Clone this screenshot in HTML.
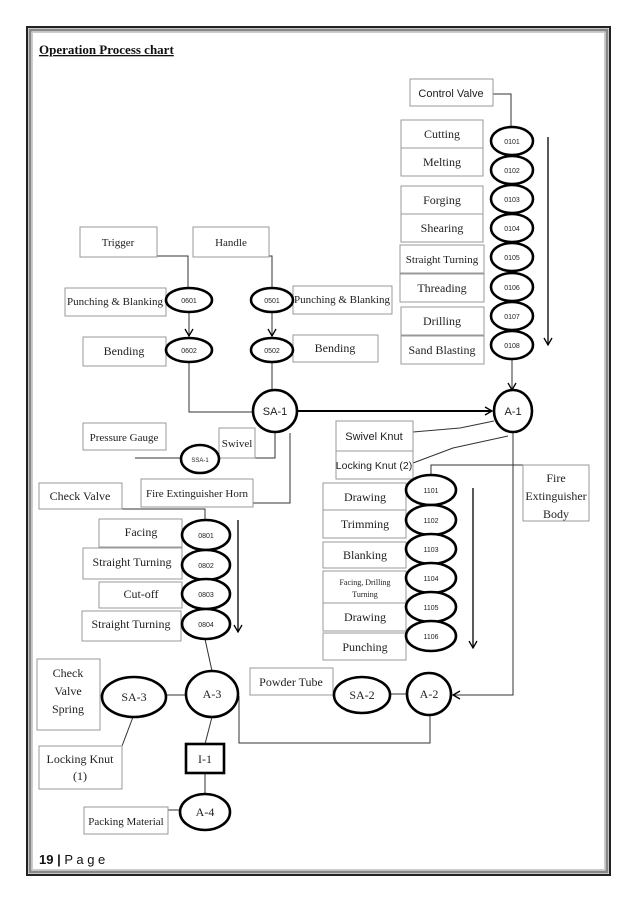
<!DOCTYPE html>
<html><head><meta charset="utf-8"><style>
html,body{margin:0;padding:0;background:#fff;}
svg{display:block;}
.b{fill:#fff;stroke:#999;stroke-width:1;}
.e{fill:#fff;stroke:#000;stroke-width:2.6;}
.l{stroke:#333;stroke-width:1;fill:none;}
.t{font-family:"Liberation Serif",serif;font-size:12px;fill:#222;text-anchor:middle;}
.s{font-family:"Liberation Sans",sans-serif;font-size:11px;fill:#222;text-anchor:middle;}
.n{font-family:"Liberation Sans",sans-serif;font-size:7px;fill:#222;text-anchor:middle;}
.w{font-size:11px;}
</style></head><body>
<svg width="638" height="903" viewBox="0 0 638 903" xmlns="http://www.w3.org/2000/svg">
<defs><marker id="ah" markerWidth="10" markerHeight="10" refX="8" refY="5" orient="auto" markerUnits="userSpaceOnUse"><path d="M1,1 L8,5 L1,9" fill="none" stroke="#000" stroke-width="1.3"/></marker></defs>
<rect x="27" y="27" width="583" height="848" fill="none" stroke="#222" stroke-width="2"/>
<rect x="30" y="30" width="577" height="842" fill="none" stroke="#888" stroke-width="3"/>
<rect x="32.5" y="32.5" width="572" height="837" fill="none" stroke="#ccc" stroke-width="1"/>
<text x="39" y="54" font-family="Liberation Serif,serif" font-size="13" font-weight="bold" text-decoration="underline" fill="#111">Operation Process chart</text>
<text x="39" y="864" font-family="Liberation Sans,sans-serif" font-size="13" fill="#111"><tspan font-weight="bold">19 |</tspan> P a g e</text>

<g class="l">
<polyline points="493,94 511,94 511,126"/>
<line x1="512" y1="359" x2="512" y2="390" marker-end="url(#ah)"/>
<line x1="548" y1="137" x2="548" y2="345" marker-end="url(#ah)" stroke="#000" stroke-width="1.3"/>
<polyline points="157,256 188,256 188,288"/>
<line x1="189" y1="312" x2="189" y2="336" marker-end="url(#ah)"/>
<polyline points="269,256 272,256 272,288"/>
<line x1="272" y1="312" x2="272" y2="336" marker-end="url(#ah)"/>
<polyline points="189,363 189,412 253,412"/>
<line x1="272" y1="363" x2="272" y2="390"/>
<line x1="298" y1="411" x2="492" y2="411" marker-end="url(#ah)" stroke="#000" stroke-width="2"/>
<line x1="135" y1="458" x2="181" y2="458"/>
<polyline points="219,458 275,458 275,433"/>
<polyline points="290,433 290,503 253,503"/>
<polyline points="122,509 205,509 205,520"/>
<line x1="238" y1="520" x2="238" y2="632" marker-end="url(#ah)" stroke="#000" stroke-width="1.3"/>
<polyline points="413,432 460,428 494,421"/>
<polyline points="413,463 453,448 508,436"/>
<polyline points="523,465 431,465 431,475"/>
<line x1="473" y1="488" x2="473" y2="648" marker-end="url(#ah)" stroke="#000" stroke-width="1.3"/>
<polyline points="513,432 513,695 453,695" marker-end="url(#ah)"/>
<line x1="296" y1="693" x2="334" y2="693"/>
<line x1="390" y1="694" x2="407" y2="694"/>
<polyline points="430,715 430,743 239,743 239,696"/>
<line x1="205" y1="639" x2="212" y2="671"/>
<line x1="100" y1="695" x2="102" y2="695"/>
<line x1="166" y1="695" x2="186" y2="695"/>
<polyline points="122,746 133,717"/>
<line x1="212" y1="717" x2="205" y2="744"/>
<line x1="205" y1="773" x2="205" y2="794"/>
<line x1="168" y1="810" x2="180" y2="810"/>
</g>

<rect class="b" x="410" y="79" width="83" height="27"/><text class="s" x="451" y="97">Control Valve</text>
<rect class="b" x="401" y="120" width="82" height="28"/><text class="t" x="442" y="138">Cutting</text>
<rect class="b" x="401" y="148" width="82" height="28"/><text class="t" x="442" y="166">Melting</text>
<rect class="b" x="401" y="186" width="82" height="28"/><text class="t" x="442" y="204">Forging</text>
<rect class="b" x="401" y="214" width="82" height="28"/><text class="t" x="442" y="232">Shearing</text>
<rect class="b" x="400" y="245" width="84" height="28"/><text class="t w" x="442" y="263">Straight Turning</text>
<rect class="b" x="400" y="274" width="84" height="28"/><text class="t" x="442" y="292">Threading</text>
<rect class="b" x="401" y="307" width="83" height="28"/><text class="t" x="442" y="325">Drilling</text>
<rect class="b" x="401" y="336" width="83" height="28"/><text class="t" x="442" y="354">Sand Blasting</text>
<g>
<ellipse class="e" cx="512" cy="141" rx="21" ry="14"/><text class="n" x="512" y="144">0101</text>
<ellipse class="e" cx="512" cy="170" rx="21" ry="14"/><text class="n" x="512" y="173">0102</text>
<ellipse class="e" cx="512" cy="199" rx="21" ry="14"/><text class="n" x="512" y="202">0103</text>
<ellipse class="e" cx="512" cy="228" rx="21" ry="14"/><text class="n" x="512" y="231">0104</text>
<ellipse class="e" cx="512" cy="257" rx="21" ry="14"/><text class="n" x="512" y="260">0105</text>
<ellipse class="e" cx="512" cy="287" rx="21" ry="14"/><text class="n" x="512" y="290">0106</text>
<ellipse class="e" cx="512" cy="316" rx="21" ry="14"/><text class="n" x="512" y="319">0107</text>
<ellipse class="e" cx="512" cy="345" rx="21" ry="14"/><text class="n" x="512" y="348">0108</text>
</g>

<rect class="b" x="80" y="227" width="77" height="30"/><text class="t w" x="118" y="246">Trigger</text>
<rect class="b" x="193" y="227" width="76" height="30"/><text class="t w" x="231" y="246">Handle</text>
<rect class="b" x="65" y="288" width="101" height="28"/><text class="t w" x="115" y="305">Punching &amp; Blanking</text>
<rect class="b" x="83" y="337" width="83" height="29"/><text class="t" x="124" y="355">Bending</text>
<rect class="b" x="293" y="286" width="99" height="28"/><text class="t w" x="342" y="303">Punching &amp; Blanking</text>
<rect class="b" x="293" y="335" width="85" height="27"/><text class="t" x="335" y="352">Bending</text>
<ellipse class="e" cx="189" cy="300" rx="23" ry="12"/><text class="n" x="189" y="303">0601</text>
<ellipse class="e" cx="189" cy="350" rx="23" ry="12"/><text class="n" x="189" y="353">0602</text>
<ellipse class="e" cx="272" cy="300" rx="21" ry="12"/><text class="n" x="272" y="303">0501</text>
<ellipse class="e" cx="272" cy="350" rx="21" ry="12"/><text class="n" x="272" y="353">0502</text>
<ellipse class="e" cx="275" cy="411" rx="22" ry="21"/><text class="s" x="275" y="415">SA-1</text>
<ellipse class="e" cx="513" cy="411" rx="19" ry="21"/><text class="s" x="513" y="415">A-1</text>

<rect class="b" x="83" y="423" width="83" height="27"/><text class="t w" x="124" y="441">Pressure Gauge</text>
<rect class="b" x="219" y="428" width="36" height="30"/><text class="t w" x="237" y="447">Swivel</text>
<ellipse class="e" cx="200" cy="459" rx="19" ry="14"/><text class="n" x="200" y="462" style="font-size:6px">SSA-1</text>
<rect class="b" x="141" y="479" width="112" height="28"/><text class="t w" x="197" y="497">Fire Extinguisher Horn</text>
<rect class="b" x="39" y="483" width="83" height="26"/><text class="t" x="80" y="500">Check Valve</text>

<rect class="b" x="336" y="421" width="77" height="30"/><text class="s" x="374" y="440">Swivel Knut</text>
<rect class="b" x="336" y="451" width="77" height="28"/><text class="s" x="374" y="469" style="font-size:10.5px">Locking Knut (2)</text>
<rect class="b" x="523" y="465" width="66" height="56"/>
<text class="t" x="556" y="482">Fire</text><text class="t" x="556" y="500">Extinguisher</text><text class="t" x="556" y="518">Body</text>

<rect class="b" x="99" y="519" width="83" height="28"/><text class="t" x="141" y="536">Facing</text>
<rect class="b" x="83" y="548" width="99" height="31"/><text class="t" x="132" y="566">Straight Turning</text>
<rect class="b" x="99" y="582" width="83" height="26"/><text class="t" x="141" y="598">Cut-off</text>
<rect class="b" x="82" y="611" width="99" height="30"/><text class="t" x="131" y="628">Straight Turning</text>
<ellipse class="e" cx="206" cy="535" rx="24" ry="15"/><text class="n" x="206" y="538">0801</text>
<ellipse class="e" cx="206" cy="565" rx="24" ry="15"/><text class="n" x="206" y="568">0802</text>
<ellipse class="e" cx="206" cy="594" rx="24" ry="15"/><text class="n" x="206" y="597">0803</text>
<ellipse class="e" cx="206" cy="624" rx="24" ry="15"/><text class="n" x="206" y="627">0804</text>

<rect class="b" x="323" y="483" width="83" height="27"/><text class="t" x="365" y="501">Drawing</text>
<rect class="b" x="323" y="510" width="83" height="28"/><text class="t" x="365" y="528">Trimming</text>
<rect class="b" x="323" y="542" width="83" height="26"/><text class="t" x="365" y="559">Blanking</text>
<rect class="b" x="323" y="571" width="83" height="32"/><text class="t" x="365" y="585" style="font-size:8px">Facing, Drilling</text><text class="t" x="365" y="597" style="font-size:8px">Turning</text>
<rect class="b" x="323" y="603" width="83" height="28"/><text class="t" x="365" y="621">Drawing</text>
<rect class="b" x="323" y="633" width="83" height="27"/><text class="t" x="365" y="651">Punching</text>
<ellipse class="e" cx="431" cy="490" rx="25" ry="15"/><text class="n" x="431" y="493">1101</text>
<ellipse class="e" cx="431" cy="520" rx="25" ry="15"/><text class="n" x="431" y="523">1102</text>
<ellipse class="e" cx="431" cy="549" rx="25" ry="15"/><text class="n" x="431" y="552">1103</text>
<ellipse class="e" cx="431" cy="578" rx="25" ry="15"/><text class="n" x="431" y="581">1104</text>
<ellipse class="e" cx="431" cy="607" rx="25" ry="15"/><text class="n" x="431" y="610">1105</text>
<ellipse class="e" cx="431" cy="636" rx="25" ry="15"/><text class="n" x="431" y="639">1106</text>

<rect class="b" x="250" y="668" width="83" height="27"/><text class="t" x="291" y="686">Powder Tube</text>
<ellipse class="e" cx="362" cy="695" rx="28" ry="18"/><text class="t" x="362" y="699">SA-2</text>
<ellipse class="e" cx="429" cy="694" rx="22" ry="21"/><text class="t" x="429" y="698">A-2</text>
<rect class="b" x="37" y="659" width="63" height="71"/>
<text class="t" x="68" y="677">Check</text><text class="t" x="68" y="695">Valve</text><text class="t" x="68" y="713">Spring</text>
<ellipse class="e" cx="134" cy="697" rx="32" ry="20"/><text class="t" x="134" y="701">SA-3</text>
<ellipse class="e" cx="212" cy="694" rx="26" ry="23"/><text class="t" x="212" y="698">A-3</text>
<rect class="b" x="39" y="746" width="83" height="43"/><text class="t" x="80" y="763">Locking Knut</text><text class="t" x="80" y="780">(1)</text>
<rect x="186" y="744" width="38" height="29" fill="#fff" stroke="#000" stroke-width="2.6"/><text class="t" x="205" y="763">I-1</text>
<rect class="b" x="84" y="807" width="84" height="27"/><text class="t w" x="126" y="825">Packing Material</text>
<ellipse class="e" cx="205" cy="812" rx="25" ry="18"/><text class="t" x="205" y="816">A-4</text>
</svg>
</body></html>
